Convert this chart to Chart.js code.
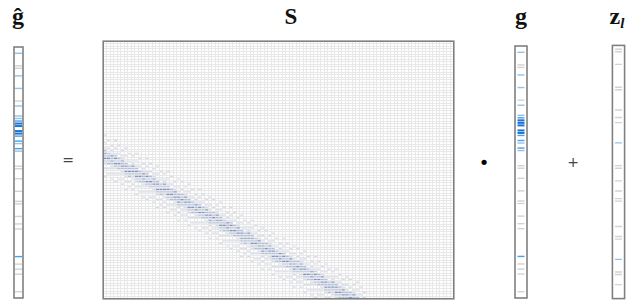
<!DOCTYPE html>
<html>
<head>
<meta charset="utf-8">
<script src="https://cdn.jsdelivr.net/npm/chart.js@4.4.0/dist/chart.umd.min.js"></script>
<style>
  body { margin: 0; background: #fff; }
  #wrap { position: relative; width: 630px; height: 306px; background: #fff; overflow: hidden; }
  .c { position: absolute; }
  .t { position: absolute; font-family: 'Liberation Serif', serif; font-weight: bold; color: #111; transform: translateX(-50%); white-space: nowrap; }
  .op { position: absolute; font-family: 'DejaVu Sans', sans-serif; color: #444; transform: translate(-50%, -50%); }
</style>
</head>
<body>
<div id="wrap">
  <div class="c" style="left:8px;top:41px"><canvas id="ghat" width="21" height="263"></canvas></div>
  <div class="c" style="left:98px;top:36px"><canvas id="smat" width="361" height="268"></canvas></div>
  <div class="c" style="left:509px;top:40px"><canvas id="gvec" width="24" height="264"></canvas></div>
  <div class="c" style="left:607px;top:40px"><canvas id="zvec" width="23" height="264"></canvas></div>

  <div class="t" style="left:18px;top:3px;font-size:24px">ĝ</div>
  <div class="t" style="left:291px;top:4px;font-size:23px">S</div>
  <div class="t" style="left:521px;top:3px;font-size:24px">g</div>
  <div class="t" style="left:617px;top:3px;font-size:24px">z<span style="font-size:15px;font-style:italic;vertical-align:-4px">l</span></div>

  <div class="op" style="left:68px;top:160px;font-size:14px">=</div>
  <div class="op" style="left:484px;top:162px;font-size:18px;color:#000">•</div>
  <div class="op" style="left:573px;top:162px;font-size:14px">+</div>
</div>
<script>
// vectors have 100 rows, matrix is 100 x 100
var ROWS = 100;
var COLS = 100;

// row index and level (1 gray, 2 light blue, 3 blue, 4 dark blue)
var gHatIdx = [2, 7, 8, 11, 16, 21, 23, 27, 28, 29, 30, 31, 33, 34, 35, 37, 38, 40, 41, 47, 48, 52, 57, 61, 62, 67, 70, 72, 83, 86, 88, 90, 97];
var gHatLvl = [2, 1, 1, 2, 2, 1, 2, 2, 2, 3, 4, 4, 4, 4, 3, 3, 2, 3, 2, 1, 1, 1, 1, 1, 1, 1, 1, 1, 3, 1, 1, 1, 1];

var gIdx = [2, 7, 8, 11, 16, 21, 23, 27, 28, 29, 30, 31, 33, 34, 35, 37, 38, 40, 41, 47, 48, 52, 57, 61, 62, 67, 70, 72, 83, 86, 88, 90, 97];
var gLvl = [2, 1, 1, 2, 2, 1, 2, 2, 3, 4, 4, 4, 4, 4, 3, 3, 2, 3, 2, 1, 1, 1, 1, 1, 1, 1, 1, 1, 3, 1, 1, 1, 1];

var zIdx = [1, 2, 7, 16, 17, 25, 28, 30, 38, 47, 48, 53, 57, 60, 61, 71, 75, 76, 84, 89, 90, 94];
var zLvl = [1, 1, 1, 1, 1, 1, 1, 1, 2, 1, 1, 1, 1, 1, 1, 1, 1, 1, 2, 1, 1, 1];

// band of S: centre row for each column, and the levels across the band (offsets -8..+8)
var bandCenter = [44, 45, 46, 46, 47, 48, 49, 50, 50, 51, 52, 53, 53, 54, 55, 56, 57, 57, 58, 59,
  60, 61, 61, 62, 63, 64, 65, 65, 66, 67, 68, 68, 69, 70, 71, 72, 72, 73, 74, 75,
  76, 76, 77, 78, 79, 80, 80, 81, 82, 83, 84, 84, 85, 86, 87, 87, 88, 89, 90, 91,
  91, 92, 93, 94, 95, 95, 96, 97, 98, 99, 99, 100, 101, 102, 103];
var bandProfiles = [
  [1, 0, 0, 1, 0, 1, 2, 3, 2, 3, 2, 1, 0, 1, 0, 0, 1],
  [0, 1, 0, 0, 1, 0, 2, 2, 3, 2, 2, 0, 1, 0, 1, 0, 0],
  [0, 0, 1, 0, 1, 1, 3, 2, 3, 2, 1, 1, 0, 1, 0, 1, 0]
];

var vecColors = ['rgba(0,0,0,0)', '#d2d2d2', '#8fc3ee', '#4a9fe6', '#1a74d6'];
var matColors = ['rgba(0,0,0,0)', '#d8dde9', '#b2bfda', '#8094c2'];

var boxBorder = {
  id: 'boxBorder',
  afterDraw: function(chart) {
    var a = chart.chartArea;
    var ctx = chart.ctx;
    ctx.save();
    ctx.strokeStyle = '#808080';
    ctx.lineWidth = 1.6;
    ctx.strokeRect(a.left, a.top, a.right - a.left, a.bottom - a.top);
    ctx.restore();
  }
};

function vectorChart(id, idx, lvl) {
  var pts = [];
  for (var i = 0; i < idx.length; i++) {
    pts.push({ x: 0.5, y: idx[i] + 0.5, v: lvl[i] });
  }
  new Chart(document.getElementById(id), {
    type: 'scatter',
    data: {
      datasets: [{
        data: pts,
        pointStyle: 'line',
        pointRadius: 3.5,
        pointBorderWidth: function(c) { return c.raw && c.raw.v == 4 ? 2 : 1.4; },
        pointBorderColor: function(c) { return vecColors[c.raw ? c.raw.v : 0]; }
      }]
    },
    options: {
      responsive: false,
      animation: false,
      events: [],
      layout: { padding: 2 },
      plugins: { legend: { display: false }, tooltip: { enabled: false } },
      scales: {
        x: { display: false, min: 0, max: 1 },
        y: { display: false, min: 0, max: ROWS, reverse: true }
      }
    },
    plugins: [boxBorder]
  });
}

function matrixChart(id) {
  var pts = [];
  for (var c = 0; c < bandCenter.length; c++) {
    var prof = bandProfiles[c % bandProfiles.length];
    for (var k = 0; k < prof.length; k++) {
      var r = bandCenter[c] + k - 8;
      if (r < 0 || r >= ROWS || prof[k] == 0) continue;
      pts.push({ x: c + 0.5, y: r + 0.5, v: prof[k] });
    }
  }
  var gridOpts = { color: '#e8e8e8', lineWidth: 1, drawTicks: false };
  new Chart(document.getElementById(id), {
    type: 'scatter',
    data: {
      datasets: [{
        data: pts,
        pointStyle: 'line',
        pointRadius: 1.5,
        pointBorderWidth: 1.2,
        pointBorderColor: function(c) { return matColors[c.raw ? c.raw.v : 0]; }
      }]
    },
    options: {
      responsive: false,
      animation: false,
      events: [],
      layout: { padding: 2 },
      plugins: { legend: { display: false }, tooltip: { enabled: false } },
      scales: {
        x: {
          min: 0, max: COLS,
          ticks: { display: false, stepSize: 1, maxTicksLimit: 200 },
          grid: gridOpts,
          border: { display: false },
          afterFit: function(s) { s.height = 0; }
        },
        y: {
          min: 0, max: ROWS, reverse: true,
          ticks: { display: false, stepSize: 1, maxTicksLimit: 200 },
          grid: gridOpts,
          border: { display: false },
          afterFit: function(s) { s.width = 0; }
        }
      }
    },
    plugins: [boxBorder]
  });
}

vectorChart('ghat', gHatIdx, gHatLvl);
matrixChart('smat');
vectorChart('gvec', gIdx, gLvl);
vectorChart('zvec', zIdx, zLvl);
</script>
</body>
</html>
